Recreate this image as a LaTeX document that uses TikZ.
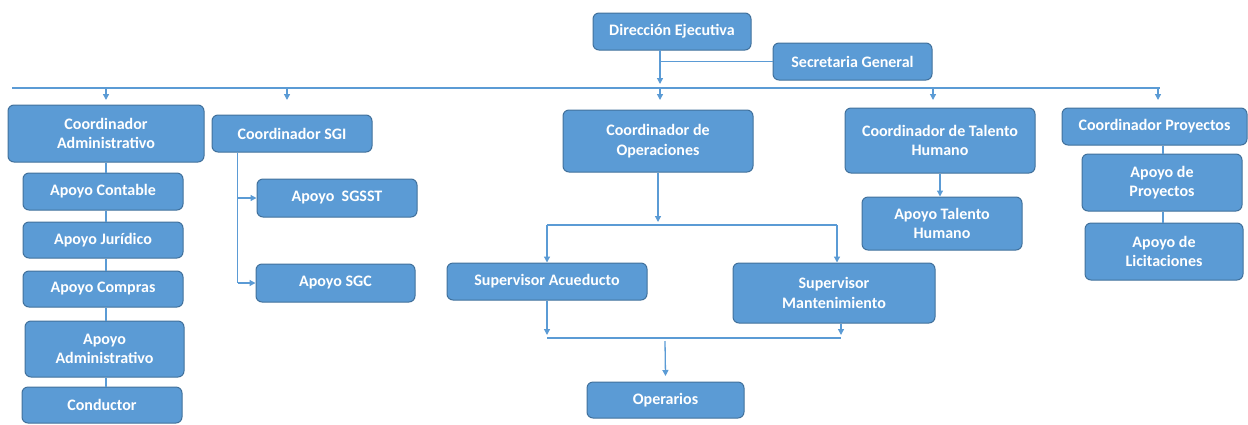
\documentclass[tikz,border=0pt]{standalone}
\usepackage{fontspec}
\setmainfont{Carlito}
\usetikzlibrary{arrows.meta,calc}
\definecolor{boxfill}{HTML}{5B9BD5}
\definecolor{boxedge}{HTML}{41719C}
\definecolor{linec}{HTML}{5B9BD5}
\tikzset{
  box/.style={draw=boxedge, line width=1pt, fill=boxfill, rounded corners=6pt,
    text=white, font=\fontsize{16}{19.5}\selectfont\bfseries, align=center, inner sep=0pt},
  conn/.style={draw=linec, line width=1.3pt},
  arr/.style={conn, -{Triangle[width=6pt,length=6pt]}}
}
\begin{document}
\begin{tikzpicture}[x=1pt,y=-1pt]
\useasboundingbox (0,0) rectangle (1248,424);
% top
\node[box, minimum width=158, minimum height=37] (dir) at (672,31.5) {Dirección Ejecutiva};
\node[box, minimum width=159, minimum height=37] (sec) at (852.5,61.5) {Secretaria General};
% coordinators
\node[box, minimum width=196, minimum height=57] (ca) at (106,133.5) {Coordinador\\Administrativo};
\node[box, minimum width=160, minimum height=37] (sgi) at (292,133.5) {Coordinador SGI};
\node[box, minimum width=190, minimum height=62] (ops) at (658,141) {Coordinador de\\Operaciones};
\node[box, minimum width=190, minimum height=65] (th) at (940,140.5) {Coordinador de Talento\\Humano};
\node[box, minimum width=185, minimum height=37] (proy) at (1154.5,126.5) {Coordinador Proyectos};
% left column
\node[box, minimum width=160, minimum height=37] (cont) at (103,191.5) {Apoyo Contable};
\node[box, minimum width=160, minimum height=36] (jur) at (103,240) {Apoyo Jurídico};
\node[box, minimum width=160, minimum height=36] (comp) at (103,289) {Apoyo Compras};
\node[box, minimum width=159, minimum height=56] (adm) at (104.5,349) {Apoyo\\Administrativo};
\node[box, minimum width=160, minimum height=36] (cond) at (102,405) {Conductor};
% SGI
\node[box, minimum width=160, minimum height=38] (sgsst) at (337,198) {Apoyo\ \ SGSST};
\node[box, minimum width=159, minimum height=38] (sgc) at (335.5,283) {Apoyo SGC};
% operations
\node[box, minimum width=200, minimum height=37] (acu) at (547,281.5) {Supervisor Acueducto};
\node[box, minimum width=202, minimum height=60] (mant) at (834,293) {Supervisor\\Mantenimiento};
\node[box, minimum width=157, minimum height=36] (ope) at (665.5,400) {Operarios};
% talento / proyectos
\node[box, minimum width=160, minimum height=53] (ath) at (942,223.5) {Apoyo Talento\\Humano};
\node[box, minimum width=160, minimum height=57] (apy) at (1162,182.5) {Apoyo de\\Proyectos};
\node[box, minimum width=158, minimum height=57] (lic) at (1164,251.5) {Apoyo de\\Licitaciones};

% coordinates
\coordinate (busL) at (12,88);
\coordinate (busR) at (1160,88);
\coordinate (dirfoot) at (660,50);
\coordinate (dirtip) at (660,84);
\coordinate (secj) at (660,61.5);
\coordinate (tca) at (106,100);
\coordinate (tsgi) at (287,100);
\coordinate (tops) at (660,100);
\coordinate (tth) at (933,100);
\coordinate (tproy) at (1158,100);

% top connectors
\draw[arr] (dirfoot) -- (dirtip);
\draw[conn] (sec.west) -- (secj);
\draw[conn] (busL) -- (busR);
\foreach \t in {tca,tsgi,tops,tth,tproy}{
  \draw[arr] (\t |- busL) -- (\t);
}
% left column
\draw[conn] (ca.south) -- (ca.south |- cont.north);
\draw[conn] (ca.south |- cont.south) -- (ca.south |- jur.north);
\draw[conn] (ca.south |- jur.south) -- (ca.south |- comp.north);
\draw[conn] (ca.south |- comp.south) -- (ca.south |- adm.north);
\draw[conn] (ca.south |- adm.south) -- (ca.south |- cond.north);
% SGI
\coordinate (sg0) at ($(sgi.south west)+(26,0)$);
\draw[conn] (sg0) -- (sg0 |- sgc.west);
\draw[arr] (sg0 |- sgsst.west) -- (sgsst.west);
\draw[arr] (sg0 |- sgc.west) -- (sgc.west);
% operations
\coordinate (opsL) at (547,225);
\coordinate (opsR) at (837,225);
\draw[arr] (ops.south) -- (ops.south |- 0,222);
\draw[conn] (opsL) -- (opsR);
\draw[arr] (opsL) -- (acu.north);
\draw[arr] (opsR) -- (opsR |- mant.north);
\coordinate (botL) at (547,338);
\coordinate (botR) at (841,338);
\coordinate (botM) at (665,341);
\draw[arr] (acu.south) -- (547,335);
\draw[arr] (botR |- mant.south) -- (841,335);
\draw[conn] (botL) -- (botR);
\draw[arr] (botM) -- (ope.north |- 0,376);
% talento humano
\draw[arr] (th.south) -- (th.south |- ath.north);
% proyectos
\draw[conn] (1163,0 |- proy.south) -- (1163,0 |- apy.north);
\draw[conn] (1163,0 |- apy.south) -- (1163,0 |- lic.north);
\end{tikzpicture}
\end{document}
